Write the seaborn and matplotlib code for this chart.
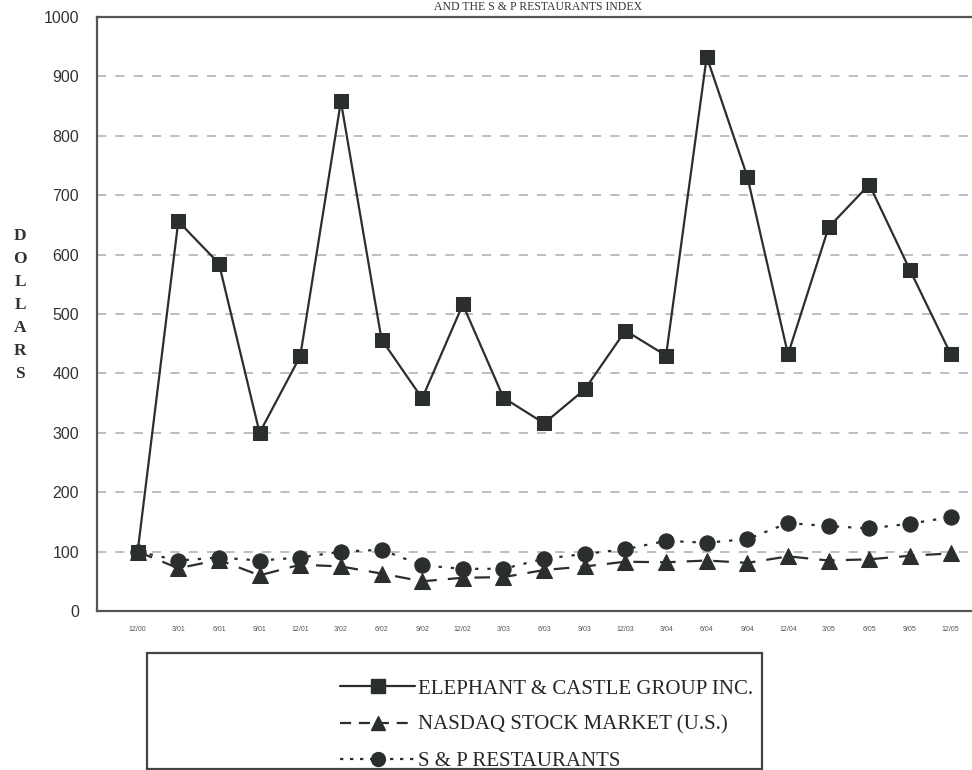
import matplotlib
matplotlib.use("Agg")
import matplotlib.pyplot as plt
import seaborn as sns
import pandas as pd
from matplotlib.patches import Rectangle
from matplotlib.lines import Line2D

# =====================================================
# DATA
# =====================================================
quarters = ["12/00", "3/01", "6/01", "9/01", "12/01", "3/02", "6/02", "9/02",
            "12/02", "3/03", "6/03", "9/03", "12/03", "3/04", "6/04", "9/04",
            "12/04", "3/05", "6/05", "9/05", "12/05"]

elephant = [100, 656, 585, 300, 429, 858, 457, 358, 516, 359, 316, 373,
            472, 430, 933, 731, 432, 646, 718, 574, 433]
nasdaq = [100, 72, 86, 60, 78, 75, 63, 50, 56, 57, 69, 75,
          83, 82, 85, 81, 92, 85, 87, 93, 97]
sp_rest = [100, 85, 90, 85, 90, 100, 103, 77, 71, 71, 88, 96,
           104, 118, 115, 121, 148, 143, 139, 147, 158]

series_names = ["ELEPHANT & CASTLE GROUP INC.",
                "NASDAQ STOCK MARKET (U.S.)",
                "S & P RESTAURANTS"]

pos = list(range(len(quarters)))
df = pd.DataFrame({
    "pos": pos * 3,
    "value": elephant + nasdaq + sp_rest,
    "series": [series_names[0]] * len(pos) + [series_names[1]] * len(pos)
              + [series_names[2]] * len(pos),
})

# =====================================================
# STYLE
# =====================================================
sns.set_style("white")
plt.rcParams["font.family"] = ["Liberation Sans", "DejaVu Sans"]

ink = "#2b2f2b"
grid_col = "#a9adb0"
serif = ["Liberation Serif", "DejaVu Serif"]

fig = plt.figure(figsize=(9.72, 7.70), dpi=100)
ax = fig.add_axes([97 / 972, 1 - 611 / 770, 0.92, 594 / 770])

styles = {
    series_names[0]: dict(marker="s", ms=10.5, dashes=None),
    series_names[1]: dict(marker="^", ms=11, dashes=(7, 5)),
    series_names[2]: dict(marker="o", ms=11, dashes=(1.5, 4)),
}

# draw S&P and NASDAQ first, elephant on top
for name in [series_names[2], series_names[1], series_names[0]]:
    st = styles[name]
    sub = df[df["series"] == name]
    sns.lineplot(data=sub, x="pos", y="value", ax=ax, color=ink,
                 marker=st["marker"], markersize=st["ms"],
                 markeredgecolor=ink, markerfacecolor=ink,
                 linewidth=1.6, legend=False)
    if st["dashes"] is not None:
        ax.lines[-1].set_dashes(st["dashes"])

# =====================================================
# AXES
# =====================================================
ax.set_xlim(-1, 21.0)
ax.set_ylim(0, 1000)
ax.set_yticks(range(0, 1001, 100))
ax.set_xticks(pos)
ax.set_xticklabels(quarters, fontsize=5, color="#555555")
ax.tick_params(axis="y", labelsize=11.5, colors="#333333", direction="inout",
               length=6, width=0.8, pad=10)
ax.tick_params(axis="x", direction="in", length=3, width=0.6, pad=11,
               color="#555555")
ax.set_xlabel("")
ax.set_ylabel("")

for y in range(100, 1000, 100):
    ax.axhline(y, color=grid_col, lw=1.1, dashes=(6, 6), zorder=0)

for side in ["left", "bottom", "top"]:
    ax.spines[side].set_color("#555555")
    ax.spines[side].set_linewidth(1.6)
ax.spines["right"].set_visible(False)

# stacked vertical label
for i, ch in enumerate("DOLLARS"):
    fig.text(20 / 972, 1 - (236 + i * 23) / 770, ch, ha="center", va="center",
             fontsize=12.5, fontweight="bold", color="#333333", family=serif)

# last line of the title (top of the page)
fig.text(538 / 972, 1 - 1 / 770, "AND THE S & P RESTAURANTS INDEX",
         ha="center", va="top", fontsize=8.5, color="#333333", family=serif)

# =====================================================
# LEGEND
# =====================================================
box = Rectangle((147 / 972, 1 - 769 / 770), (762 - 147) / 972,
                (769 - 653) / 770, transform=fig.transFigure,
                fill=False, edgecolor="#444444", lw=1.6)
fig.patches.append(box)

handles = [
    Line2D([], [], color=ink, ls="-", lw=1.6, marker="s", ms=10),
    Line2D([], [], color=ink, lw=1.6, dashes=(5, 3.5), marker="^", ms=10),
    Line2D([], [], color=ink, lw=1.6, dashes=(1.5, 3), marker="o", ms=10),
]
fig.legend(handles, series_names, loc="upper left",
           bbox_to_anchor=(340 / 972, 1 - 679 / 770), frameon=False,
           handlelength=3.6, handletextpad=0.15, labelspacing=0.8,
           borderpad=0, borderaxespad=0,
           prop={"family": serif, "size": 15})

fig.savefig("out.png", dpi=100)
